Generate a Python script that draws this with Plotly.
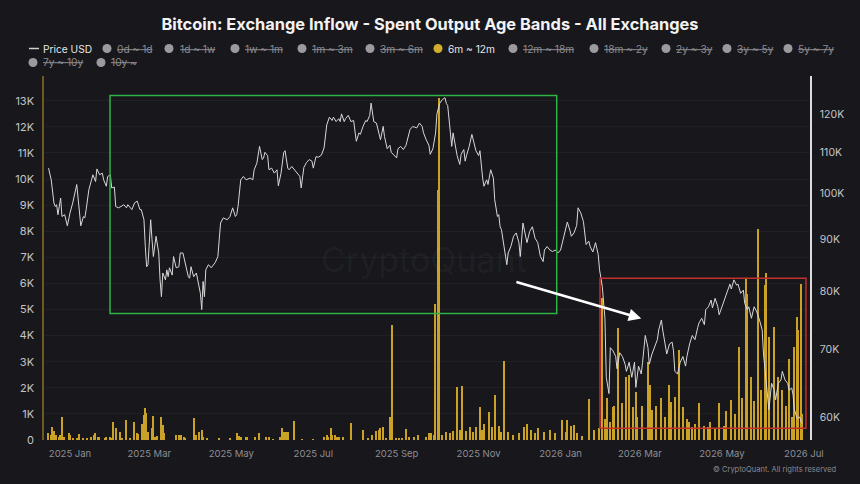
import plotly.graph_objects as go

# ---------------- data ----------------
price_dates = [
"2024-12-16","2024-12-18","2024-12-20","2024-12-21","2024-12-22","2024-12-23","2024-12-25","2024-12-26","2024-12-28","2024-12-30",
"2025-01-01","2025-01-03","2025-01-06","2025-01-08","2025-01-09","2025-01-11","2025-01-12","2025-01-13","2025-01-15","2025-01-17",
"2025-01-18","2025-01-20","2025-01-21","2025-01-23","2025-01-25","2025-01-26","2025-01-28","2025-01-29","2025-01-31","2025-02-01",
"2025-02-03","2025-02-04","2025-02-06","2025-02-08","2025-02-10","2025-02-12","2025-02-13","2025-02-16","2025-02-18","2025-02-20",
"2025-02-22","2025-02-23","2025-02-25","2025-02-26","2025-02-27","2025-02-28","2025-03-02","2025-03-03","2025-03-04","2025-03-06",
"2025-03-08","2025-03-09","2025-03-10","2025-03-11","2025-03-13","2025-03-14","2025-03-15","2025-03-16","2025-03-18","2025-03-19",
"2025-03-21","2025-03-23","2025-03-24","2025-03-26","2025-03-28","2025-03-30","2025-03-31","2025-04-01","2025-04-03","2025-04-05",
"2025-04-06","2025-04-08","2025-04-09","2025-04-10","2025-04-11","2025-04-12","2025-04-14","2025-04-16","2025-04-19","2025-04-21",
"2025-04-23","2025-04-25","2025-04-28","2025-04-30","2025-05-02","2025-05-04","2025-05-05","2025-05-06","2025-05-08","2025-05-10",
"2025-05-12","2025-05-15","2025-05-17","2025-05-18","2025-05-20","2025-05-22","2025-05-24","2025-05-25","2025-05-26","2025-05-28",
"2025-05-29","2025-05-31","2025-06-02","2025-06-04","2025-06-05","2025-06-07","2025-06-09","2025-06-10","2025-06-12","2025-06-13",
"2025-06-15","2025-06-17","2025-06-19","2025-06-21","2025-06-22","2025-06-24","2025-06-26","2025-06-28","2025-06-30","2025-07-01",
"2025-07-03","2025-07-05","2025-07-07","2025-07-09","2025-07-11","2025-07-13","2025-07-15","2025-07-16","2025-07-18","2025-07-20",
"2025-07-21","2025-07-22","2025-07-24","2025-07-25","2025-07-27","2025-07-29","2025-07-31","2025-08-02","2025-08-04","2025-08-05",
"2025-08-07","2025-08-09","2025-08-10","2025-08-12","2025-08-13","2025-08-15","2025-08-17","2025-08-18","2025-08-20","2025-08-22",
"2025-08-23","2025-08-25","2025-08-27","2025-08-28","2025-08-30","2025-09-01","2025-09-02","2025-09-04","2025-09-06","2025-09-08",
"2025-09-11","2025-09-13","2025-09-16","2025-09-18","2025-09-20","2025-09-21","2025-09-23","2025-09-25","2025-09-26","2025-09-28",
"2025-09-30","2025-10-01","2025-10-03","2025-10-05","2025-10-07","2025-10-08","2025-10-09","2025-10-10","2025-10-12","2025-10-13",
"2025-10-14","2025-10-16","2025-10-18","2025-10-19","2025-10-21","2025-10-22","2025-10-23","2025-10-25","2025-10-27","2025-10-28",
"2025-10-30","2025-11-01","2025-11-02","2025-11-04","2025-11-05","2025-11-07","2025-11-08","2025-11-10","2025-11-12","2025-11-13",
"2025-11-15","2025-11-16","2025-11-17","2025-11-18","2025-11-19","2025-11-21","2025-11-22","2025-11-23","2025-11-25","2025-11-27",
"2025-11-29","2025-12-01","2025-12-02","2025-12-04","2025-12-06","2025-12-07","2025-12-09","2025-12-11","2025-12-13","2025-12-15",
"2025-12-17","2025-12-19","2025-12-20","2025-12-22","2025-12-24","2025-12-26","2025-12-28","2025-12-30","2026-01-01","2026-01-03",
"2026-01-04","2026-01-06","2026-01-08","2026-01-09","2026-01-11","2026-01-13","2026-01-14","2026-01-16","2026-01-18","2026-01-20",
"2026-01-22","2026-01-23","2026-01-25","2026-01-27","2026-01-29","2026-01-30","2026-02-01","2026-02-02","2026-02-03","2026-02-04",
"2026-02-06","2026-02-07","2026-02-09","2026-02-11","2026-02-12","2026-02-14","2026-02-16","2026-02-18","2026-02-19","2026-02-21",
"2026-02-23","2026-02-25","2026-02-26","2026-02-28","2026-03-02","2026-03-03","2026-03-05","2026-03-07","2026-03-08","2026-03-10",
"2026-03-12","2026-03-14","2026-03-15","2026-03-17","2026-03-18","2026-03-20","2026-03-21","2026-03-23","2026-03-25","2026-03-26",
"2026-03-27","2026-03-29","2026-03-31","2026-04-02","2026-04-04","2026-04-05","2026-04-07","2026-04-09","2026-04-11","2026-04-13",
"2026-04-14","2026-04-16","2026-04-18","2026-04-19","2026-04-21","2026-04-23","2026-04-24","2026-04-26","2026-04-28","2026-04-29",
"2026-05-01","2026-05-03","2026-05-05","2026-05-07","2026-05-08","2026-05-10","2026-05-12","2026-05-13","2026-05-15","2026-05-17",
"2026-05-18","2026-05-20","2026-05-21","2026-05-23","2026-05-25","2026-05-27","2026-05-29","2026-05-31","2026-06-01","2026-06-03",
"2026-06-04","2026-06-05","2026-06-07","2026-06-09","2026-06-10","2026-06-12","2026-06-14","2026-06-15","2026-06-17","2026-06-19",
"2026-06-20","2026-06-22","2026-06-23","2026-06-24","2026-06-26","2026-06-28","2026-06-29","2026-06-30",
]
price_k = [
106.0,103.2,97.9,97.1,97.5,95.3,99.0,94.9,95.3,92.9,
95.7,97.9,102.1,96.4,92.9,94.9,94.6,96.4,100.9,103.2,
104.4,102.8,105.8,104.4,104.8,103.2,101.7,104.0,104.4,101.3,
101.5,97.1,96.8,97.1,97.5,96.8,97.5,96.4,97.9,98.3,
96.4,96.4,94.2,88.6,84.6,85.0,94.2,90.0,86.6,90.7,
87.3,82.1,79.0,83.4,82.1,84.0,82.7,84.4,83.0,86.6,
84.4,84.6,87.3,87.3,84.6,82.7,82.4,84.6,82.7,83.4,
82.1,79.6,76.7,81.8,79.0,84.0,85.0,84.4,85.4,86.6,
93.5,94.6,94.2,94.9,96.8,94.9,95.3,97.1,103.2,104.0,
103.2,103.6,103.2,105.6,107.2,111.4,108.1,108.5,109.9,109.1,
105.6,106.0,104.8,105.6,101.8,104.8,109.9,110.3,106.0,105.6,
106.4,105.6,104.8,104.0,101.3,106.2,107.4,108.1,107.7,106.0,
108.8,108.7,109.2,111.0,117.0,119.1,118.2,119.1,117.9,118.7,
117.9,120.0,117.9,118.7,119.6,117.9,118.2,112.7,114.9,114.5,
116.6,118.2,117.9,119.6,123.0,117.9,117.5,115.8,113.1,116.6,
113.9,110.8,111.7,109.9,109.1,108.5,110.8,111.4,110.6,111.7,
115.8,116.6,116.2,117.5,116.6,114.9,113.1,111.7,109.4,110.8,
114.9,120.0,122.9,124.0,124.5,122.9,122.3,117.9,111.4,114.9,
113.1,109.1,106.9,109.4,110.6,107.7,109.1,111.4,114.5,113.1,
110.3,109.1,110.3,103.6,101.7,103.2,102.1,105.6,103.6,98.6,
94.9,95.3,92.7,92.1,90.3,87.3,85.0,87.3,88.6,90.7,
91.4,89.4,86.6,93.5,90.7,89.4,91.7,92.7,90.3,89.4,
86.6,85.6,87.9,88.6,87.9,87.6,87.9,87.3,87.9,90.3,
91.4,93.7,91.9,90.7,91.4,93.0,96.8,95.7,93.8,89.0,
89.7,88.6,87.5,89.4,87.0,84.0,80.9,77.6,75.2,65.7,
63.3,70.3,69.8,68.9,67.0,69.5,68.9,67.7,66.6,68.0,
65.7,68.0,64.2,67.4,66.2,68.0,72.3,70.3,67.7,69.3,
70.3,71.6,73.2,74.9,73.2,70.9,69.3,70.9,71.2,69.8,
66.6,66.2,68.0,68.9,67.4,68.9,70.9,72.3,71.6,73.6,
74.4,75.2,74.1,76.7,77.2,78.4,77.0,78.7,77.2,75.8,
77.2,78.7,79.8,81.3,80.4,82.1,81.1,81.3,79.6,80.2,
77.8,76.7,77.2,75.2,77.2,76.3,74.9,73.2,69.3,64.8,
63.3,61.0,64.8,63.8,62.4,64.8,65.3,66.6,65.3,64.8,
63.8,64.1,63.1,61.0,59.8,60.0,59.3,59.1,
]

inflow_dates = [
"2024-12-16","2024-12-18","2024-12-19","2024-12-20","2024-12-22","2024-12-24","2024-12-25","2024-12-26","2024-12-28","2024-12-31",
"2025-01-01","2025-01-03","2025-01-06","2025-01-08","2025-01-11","2025-01-14","2025-01-17","2025-01-19","2025-01-20","2025-01-22",
"2025-01-23","2025-01-27","2025-01-28","2025-01-31","2025-02-01","2025-02-02","2025-02-04","2025-02-07","2025-02-09","2025-02-12",
"2025-02-15","2025-02-18","2025-02-20","2025-02-21","2025-02-24","2025-02-25","2025-02-26","2025-02-27","2025-02-28","2025-03-03",
"2025-03-04","2025-03-05","2025-03-07","2025-03-10","2025-03-11","2025-03-12","2025-03-21","2025-03-23","2025-03-25","2025-03-27",
"2025-03-28","2025-04-03","2025-04-05","2025-04-07","2025-04-09","2025-04-10","2025-04-13","2025-04-22","2025-04-30","2025-05-05",
"2025-05-07","2025-05-08","2025-05-12","2025-05-13","2025-05-19","2025-05-22","2025-05-27","2025-05-29","2025-06-01","2025-06-06",
"2025-06-08","2025-06-09","2025-06-11","2025-06-12","2025-06-17","2025-06-23","2025-07-01","2025-07-09","2025-07-11","2025-07-12",
"2025-07-14","2025-07-15","2025-07-17","2025-07-19","2025-07-20","2025-07-23","2025-07-29","2025-08-07","2025-08-11","2025-08-14",
"2025-08-17","2025-08-19","2025-08-20","2025-08-22","2025-08-24","2025-08-27","2025-08-29","2025-09-01","2025-09-03","2025-09-05",
"2025-09-08","2025-09-10","2025-09-14","2025-09-17","2025-09-23","2025-09-25","2025-09-27","2025-09-29","2025-09-30","2025-10-02",
"2025-10-03","2025-10-05","2025-10-08","2025-10-11","2025-10-13","2025-10-16","2025-10-18","2025-10-20","2025-10-23","2025-10-26",
"2025-10-28","2025-10-30","2025-11-02","2025-11-04","2025-11-05","2025-11-09","2025-11-11","2025-11-13","2025-11-16","2025-11-18",
"2025-11-20","2025-11-23","2025-11-27","2025-12-01","2025-12-05","2025-12-07","2025-12-10","2025-12-13","2025-12-15","2025-12-20",
"2025-12-24","2025-12-28","2026-01-02","2026-01-05","2026-01-06","2026-01-09","2026-01-11","2026-01-13","2026-01-17","2026-01-22",
"2026-01-26","2026-01-30","2026-02-01","2026-02-03","2026-02-05","2026-02-07","2026-02-09","2026-02-10","2026-02-13","2026-02-16",
"2026-02-19","2026-02-21","2026-02-24","2026-02-26","2026-02-27","2026-03-03","2026-03-07","2026-03-09","2026-03-10","2026-03-13",
"2026-03-17","2026-03-20","2026-03-23","2026-03-24","2026-03-27","2026-03-30","2026-04-02","2026-04-05","2026-04-07","2026-04-09",
"2026-04-11","2026-04-14","2026-04-18","2026-04-21","2026-04-22","2026-04-26","2026-04-29","2026-05-03","2026-05-04","2026-05-08",
"2026-05-11","2026-05-14","2026-05-16","2026-05-19","2026-05-20","2026-05-23","2026-05-25","2026-05-28","2026-05-30","2026-06-02",
"2026-06-03","2026-06-05","2026-06-09","2026-06-12","2026-06-15","2026-06-18","2026-06-20","2026-06-22","2026-06-24","2026-06-26",
"2026-06-27","2026-06-29","2026-06-30",
]
inflow_btc = [
260,200,510,340,180,130,200,890,100,260,
200,70,80,230,80,80,100,180,260,130,
100,80,100,130,80,700,450,310,60,770,
80,680,260,220,600,950,1210,1020,320,450,
930,130,170,890,570,260,180,210,180,130,
70,830,180,310,380,130,40,40,70,260,
170,100,130,100,100,260,130,100,30,100,
450,310,290,310,730,30,30,100,180,130,
460,210,180,130,130,100,660,390,70,180,
340,390,460,510,70,890,4400,50,50,70,
420,130,130,180,130,260,260,200,5200,9600,
13100,200,300,250,350,2040,400,2070,350,500,
300,500,1280,400,600,1080,500,1720,550,300,
3040,300,200,250,500,600,400,250,450,300,
400,250,750,300,770,550,570,250,150,1570,
400,450,5430,800,1600,700,1280,1300,4280,1400,
2430,2500,1280,1850,900,1300,3000,2100,1150,1300,
1600,900,2100,1470,1660,3450,1250,800,700,500,
600,1400,550,500,700,450,1400,550,1100,1530,
1000,3570,1600,6160,5600,2430,1500,8070,1900,5940,
6390,3960,4340,2430,1900,1300,3100,900,3570,4720,
4200,5980,1000,
]

left_tickvals = [0, 1000, 2000, 3000, 4000, 5000, 6000, 7000, 8000, 9000, 10000, 11000, 12000, 13000]
left_ticktext = ["0", "1K", "2K", "3K", "4K", "5K", "6K", "7K", "8K", "9K", "10K", "11K", "12K", "13K"]
right_tickvals = [60000, 70000, 80000, 90000, 100000, 110000, 120000]
right_ticktext = ["60K", "70K", "80K", "90K", "100K", "110K", "120K"]
x_tickvals = ["2025-01-01", "2025-03-01", "2025-05-01", "2025-07-01", "2025-09-01", "2025-11-01",
              "2026-01-01", "2026-03-01", "2026-05-01", "2026-07-01"]
x_ticktext = ["2025 Jan", "2025 Mar", "2025 May", "2025 Jul", "2025 Sep", "2025 Nov",
              "2026 Jan", "2026 Mar", "2026 May", "2026 Jul"]

legend_labels = ["0d ~ 1d", "1d ~ 1w", "1w ~ 1m", "1m ~ 3m", "3m ~ 6m", "6m ~ 12m", "12m ~ 18m",
                 "18m ~ 2y", "2y ~ 3y", "3y ~ 5y", "5y ~ 7y", "7y ~ 10y", "10y ~"]
legend_active = "6m ~ 12m"

# ---------------- styling / layout ----------------
BG = "#17171c"
GOLD = "#c9a227"
FONT = "Inter"
W, H = 860, 484
ML, MR, MT, MB = 44, 50, 76, 44
PW, PH = W - ML - MR, H - MT - MB

def fx(px):
    return (px - ML) / PW

def fy(py):
    return (H - MB - py) / PH

fig = go.Figure()
fig.add_trace(go.Bar(
    x=inflow_dates, y=inflow_btc, yaxis="y",
    marker=dict(color=GOLD, line=dict(width=0)),
    width=86400000 * 1.0, name="6m ~ 12m", showlegend=False,
))
fig.add_trace(go.Scatter(
    x=price_dates, y=[p * 1000 for p in price_k], yaxis="y2",
    mode="lines", line=dict(color="#d8d8d8", width=1),
    name="Price USD", showlegend=False,
))

shapes = []
annotations = []

# boxes & arrow
shapes.append(dict(type="rect", xref="x", yref="y",
                   x0="2025-01-30 18:00", x1="2025-12-29 03:00", y0=4850, y1=13200,
                   line=dict(color="#2fb344", width=1.5), layer="above"))
shapes.append(dict(type="rect", xref="x", yref="y",
                   x0="2026-01-30 08:00", x1="2026-07-02 14:00", y0=450, y1=6200,
                   line=dict(color="#c4302a", width=1.5), layer="above"))
annotations.append(dict(xref="x", yref="y", axref="x", ayref="y",
                        x="2026-03-02", y=4660, ax="2025-11-28", ay=6070,
                        text="", showarrow=True, arrowhead=2, arrowsize=1,
                        arrowwidth=2.5, arrowcolor="#ffffff"))

# legend
row1, row2 = 48.5, 62.5
shapes.append(dict(type="line", xref="paper", yref="paper", xsizemode="pixel", ysizemode="pixel",
                   xanchor=fx(34), yanchor=fy(row1), x0=-5, x1=5, y0=0, y1=0,
                   line=dict(color="#d0d0d0", width=1.5)))
annotations.append(dict(xref="paper", yref="paper", x=fx(41), y=fy(row1), xanchor="left", yanchor="middle",
                        text="Price USD", showarrow=False,
                        font=dict(family=FONT, size=10.2, color="#e6e6e6")))
circle_px = [107, 169, 235, 302, 370, 438, 513, 594, 666, 727, 788, 33, 101]
text_px = [115, 178, 243, 310, 378, 446, 521, 602, 674, 735, 796, 41, 109]
for i, lab in enumerate(legend_labels):
    ry = row1 if i < 11 else row2
    active = lab == legend_active
    shapes.append(dict(type="circle", xref="paper", yref="paper", xsizemode="pixel", ysizemode="pixel",
                       xanchor=fx(circle_px[i]), yanchor=fy(ry), x0=-4.5, x1=4.5, y0=-4.5, y1=4.5,
                       fillcolor=("#d4ad2c" if active else "#9a9a9f"), line=dict(width=0)))
    annotations.append(dict(xref="paper", yref="paper", x=fx(text_px[i]), y=fy(ry),
                            xanchor="left", yanchor="middle", showarrow=False,
                            text=(lab if active else "<s>" + lab + "</s>"),
                            font=dict(family=FONT, size=10.2,
                                      color=("#e6e6e6" if active else "#8b8b90"))))

# watermark & copyright
annotations.append(dict(xref="paper", yref="paper", x=fx(424), y=fy(259), xanchor="center", yanchor="middle",
                        text="CryptoQuant", showarrow=False,
                        font=dict(family=FONT, size=34, color="rgba(255,255,255,0.045)")))
annotations.append(dict(xref="paper", yref="paper", x=fx(838), y=fy(469), xanchor="right", yanchor="middle",
                        text="© CryptoQuant. All rights reserved", showarrow=False,
                        font=dict(family=FONT, size=7.5, color="#8a8a90")))

fig.update_layout(
    width=W, height=H,
    margin=dict(l=ML, r=MR, t=MT, b=MB),
    paper_bgcolor=BG, plot_bgcolor=BG,
    showlegend=False,
    bargap=0,
    title=dict(text="Bitcoin: Exchange Inflow - Spent Output Age Bands - All Exchanges",
               x=0.5, xanchor="center", y=1 - 24 / H, yanchor="middle",
               font=dict(family=FONT, size=16.4, color="#f2f2f2", weight="bold")),
    xaxis=dict(type="date", range=["2024-12-12 15:00", "2026-07-05 14:00"],
               tickvals=x_tickvals, ticktext=x_ticktext, showgrid=False, zeroline=False,
               showline=False, ticks="", ticklabelstandoff=6,
               tickfont=dict(family=FONT, size=9.5, color="#8e8e94")),
    yaxis=dict(range=[0, 13950], tickvals=left_tickvals, ticktext=left_ticktext,
               showgrid=True, gridcolor="#1f1f25", gridwidth=1, zeroline=False,
               showline=True, linecolor="#6e5b1f", linewidth=1.5, ticks="", ticklabelstandoff=6,
               tickfont=dict(family=FONT, size=11, color="#c4c4c8")),
    yaxis2=dict(overlaying="y", side="right", type="log", range=[4.7553, 5.1168],
                tickvals=right_tickvals, ticktext=right_ticktext, showgrid=False, zeroline=False,
                showline=True, linecolor="#dcdcdc", linewidth=1.5, ticks="", ticklabelstandoff=6,
                tickfont=dict(family=FONT, size=10.5, color="#c4c4c8")),
    shapes=shapes,
    annotations=annotations,
)

fig.write_html("out.html")
